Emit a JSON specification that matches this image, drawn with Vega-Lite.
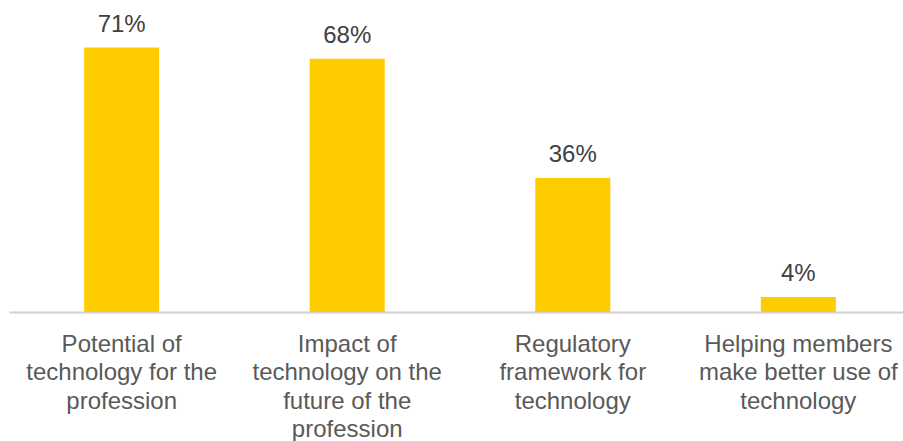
{
  "$schema": "https://vega.github.io/schema/vega-lite/v6.json",
  "width": 902,
  "height": 298,
  "padding": {"left": 9, "top": 14, "right": 0, "bottom": 129},
  "autosize": {"type": "none"},
  "background": "white",
  "config": {"view": {"stroke": null}, "font": "Liberation Sans"},
  "data": {
    "values": [
      {"category": "Potential of\ntechnology for the\nprofession", "value": 0.71, "label": "71%"},
      {"category": "Impact of\ntechnology on the\nfuture of the\nprofession", "value": 0.68, "label": "68%"},
      {"category": "Regulatory\nframework for\ntechnology", "value": 0.36, "label": "36%"},
      {"category": "Helping members\nmake better use of\ntechnology", "value": 0.04, "label": "4%"}
    ]
  },
  "encoding": {
    "x": {
      "field": "category",
      "type": "nominal",
      "sort": null,
      "scale": {"paddingInner": 0.667, "paddingOuter": 0.333},
      "axis": {
        "title": null,
        "labelAngle": 0,
        "labelExpr": "split(datum.value, '\\n')",
        "labelFont": "Liberation Sans",
        "labelFontSize": 24,
        "labelLineHeight": 28.5,
        "labelColor": "#595959",
        "labelPadding": 20,
        "labelBaseline": "top",
        "ticks": false,
        "domainColor": "#D0D0D0",
        "domainWidth": 2,
        "labelLimit": 0
      }
    },
    "y": {
      "field": "value",
      "type": "quantitative",
      "scale": {"domain": [0, 0.8], "nice": false},
      "axis": null
    }
  },
  "layer": [
    {"mark": {"type": "bar", "color": "#FFCC00", "width": 75}},
    {
      "mark": {"type": "text", "baseline": "alphabetic", "dy": -16, "fontSize": 24, "color": "#404040", "font": "Liberation Sans"},
      "encoding": {"text": {"field": "label"}}
    }
  ]
}
